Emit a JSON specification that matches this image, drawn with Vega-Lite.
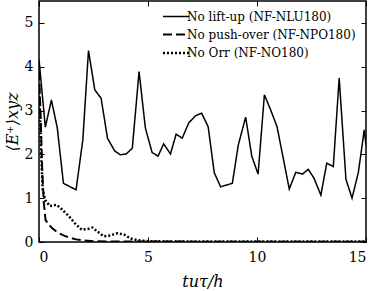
{
  "$schema": "https://vega.github.io/schema/vega-lite/v6.json",
  "autosize": "none",
  "width": 327,
  "height": 241,
  "padding": {"left": 39, "top": 1, "right": 8, "bottom": 49},
  "config": {
    "font": "DejaVu Serif",
    "view": {"stroke": "black", "strokeWidth": 1.5},
    "axis": {"domain": false, "grid": false, "tickColor": "black", "labelColor": "black", "titleColor": "black", "labelFont": "DejaVu Serif", "titleFont": "DejaVu Serif", "labelFontSize": 14, "titleFontSize": 16, "titleFontWeight": "normal", "tickSize": -5, "tickWidth": 1}
  },
  "data": {"values": [
    {"s": "No lift-up (NF-NLU180)", "t": 0, "E": 4.17},
    {"s": "No lift-up (NF-NLU180)", "t": 0.29, "E": 2.62},
    {"s": "No lift-up (NF-NLU180)", "t": 0.57, "E": 3.24},
    {"s": "No lift-up (NF-NLU180)", "t": 0.84, "E": 2.6},
    {"s": "No lift-up (NF-NLU180)", "t": 1.12, "E": 1.34},
    {"s": "No lift-up (NF-NLU180)", "t": 1.7, "E": 1.19},
    {"s": "No lift-up (NF-NLU180)", "t": 2.01, "E": 2.33},
    {"s": "No lift-up (NF-NLU180)", "t": 2.27, "E": 4.37},
    {"s": "No lift-up (NF-NLU180)", "t": 2.56, "E": 3.47},
    {"s": "No lift-up (NF-NLU180)", "t": 2.85, "E": 3.28},
    {"s": "No lift-up (NF-NLU180)", "t": 3.14, "E": 2.37},
    {"s": "No lift-up (NF-NLU180)", "t": 3.47, "E": 2.08},
    {"s": "No lift-up (NF-NLU180)", "t": 3.73, "E": 1.99},
    {"s": "No lift-up (NF-NLU180)", "t": 4.0, "E": 2.01},
    {"s": "No lift-up (NF-NLU180)", "t": 4.28, "E": 2.14},
    {"s": "No lift-up (NF-NLU180)", "t": 4.59, "E": 3.89},
    {"s": "No lift-up (NF-NLU180)", "t": 4.88, "E": 2.6},
    {"s": "No lift-up (NF-NLU180)", "t": 5.19, "E": 2.04},
    {"s": "No lift-up (NF-NLU180)", "t": 5.46, "E": 1.96},
    {"s": "No lift-up (NF-NLU180)", "t": 5.72, "E": 2.24},
    {"s": "No lift-up (NF-NLU180)", "t": 6.03, "E": 2.01},
    {"s": "No lift-up (NF-NLU180)", "t": 6.29, "E": 2.46},
    {"s": "No lift-up (NF-NLU180)", "t": 6.57, "E": 2.37},
    {"s": "No lift-up (NF-NLU180)", "t": 6.87, "E": 2.72},
    {"s": "No lift-up (NF-NLU180)", "t": 7.18, "E": 2.88},
    {"s": "No lift-up (NF-NLU180)", "t": 7.46, "E": 2.94},
    {"s": "No lift-up (NF-NLU180)", "t": 7.76, "E": 2.63},
    {"s": "No lift-up (NF-NLU180)", "t": 8.04, "E": 1.58},
    {"s": "No lift-up (NF-NLU180)", "t": 8.33, "E": 1.26},
    {"s": "No lift-up (NF-NLU180)", "t": 8.87, "E": 1.34},
    {"s": "No lift-up (NF-NLU180)", "t": 9.14, "E": 2.21},
    {"s": "No lift-up (NF-NLU180)", "t": 9.48, "E": 2.85},
    {"s": "No lift-up (NF-NLU180)", "t": 9.76, "E": 1.96},
    {"s": "No lift-up (NF-NLU180)", "t": 10.05, "E": 1.55},
    {"s": "No lift-up (NF-NLU180)", "t": 10.34, "E": 3.36},
    {"s": "No lift-up (NF-NLU180)", "t": 10.63, "E": 3.01},
    {"s": "No lift-up (NF-NLU180)", "t": 10.92, "E": 2.63},
    {"s": "No lift-up (NF-NLU180)", "t": 11.48, "E": 1.21},
    {"s": "No lift-up (NF-NLU180)", "t": 11.78, "E": 1.59},
    {"s": "No lift-up (NF-NLU180)", "t": 12.09, "E": 1.55},
    {"s": "No lift-up (NF-NLU180)", "t": 12.35, "E": 1.66},
    {"s": "No lift-up (NF-NLU180)", "t": 12.62, "E": 1.45},
    {"s": "No lift-up (NF-NLU180)", "t": 12.93, "E": 1.07},
    {"s": "No lift-up (NF-NLU180)", "t": 13.2, "E": 1.8},
    {"s": "No lift-up (NF-NLU180)", "t": 13.5, "E": 1.72},
    {"s": "No lift-up (NF-NLU180)", "t": 13.77, "E": 3.74},
    {"s": "No lift-up (NF-NLU180)", "t": 14.08, "E": 1.43},
    {"s": "No lift-up (NF-NLU180)", "t": 14.36, "E": 1.0},
    {"s": "No lift-up (NF-NLU180)", "t": 14.65, "E": 1.59},
    {"s": "No lift-up (NF-NLU180)", "t": 14.92, "E": 2.56},
    {"s": "No lift-up (NF-NLU180)", "t": 15.0, "E": 2.2},
    {"s": "No push-over (NF-NPO180)", "t": 0, "E": 3.9},
    {"s": "No push-over (NF-NPO180)", "t": 0.08, "E": 2.8},
    {"s": "No push-over (NF-NPO180)", "t": 0.15, "E": 1.6},
    {"s": "No push-over (NF-NPO180)", "t": 0.22, "E": 0.9},
    {"s": "No push-over (NF-NPO180)", "t": 0.3, "E": 0.5},
    {"s": "No push-over (NF-NPO180)", "t": 0.57, "E": 0.33},
    {"s": "No push-over (NF-NPO180)", "t": 0.84, "E": 0.22},
    {"s": "No push-over (NF-NPO180)", "t": 1.12, "E": 0.15},
    {"s": "No push-over (NF-NPO180)", "t": 1.4, "E": 0.1},
    {"s": "No push-over (NF-NPO180)", "t": 1.7, "E": 0.06},
    {"s": "No push-over (NF-NPO180)", "t": 2.0, "E": 0.04},
    {"s": "No push-over (NF-NPO180)", "t": 2.5, "E": 0.02},
    {"s": "No push-over (NF-NPO180)", "t": 3.5, "E": 0.01},
    {"s": "No push-over (NF-NPO180)", "t": 15, "E": 0.005},
    {"s": "No Orr (NF-NO180)", "t": 0, "E": 3.6},
    {"s": "No Orr (NF-NO180)", "t": 0.05, "E": 2.8},
    {"s": "No Orr (NF-NO180)", "t": 0.1, "E": 2.0},
    {"s": "No Orr (NF-NO180)", "t": 0.17, "E": 1.2},
    {"s": "No Orr (NF-NO180)", "t": 0.28, "E": 0.96},
    {"s": "No Orr (NF-NO180)", "t": 0.5, "E": 0.82},
    {"s": "No Orr (NF-NO180)", "t": 0.81, "E": 0.85},
    {"s": "No Orr (NF-NO180)", "t": 1.04, "E": 0.75},
    {"s": "No Orr (NF-NO180)", "t": 1.35, "E": 0.6},
    {"s": "No Orr (NF-NO180)", "t": 1.66, "E": 0.42},
    {"s": "No Orr (NF-NO180)", "t": 1.96, "E": 0.28},
    {"s": "No Orr (NF-NO180)", "t": 2.27, "E": 0.3},
    {"s": "No Orr (NF-NO180)", "t": 2.45, "E": 0.33},
    {"s": "No Orr (NF-NO180)", "t": 2.65, "E": 0.25},
    {"s": "No Orr (NF-NO180)", "t": 2.96, "E": 0.13},
    {"s": "No Orr (NF-NO180)", "t": 3.27, "E": 0.15},
    {"s": "No Orr (NF-NO180)", "t": 3.6, "E": 0.2},
    {"s": "No Orr (NF-NO180)", "t": 3.9, "E": 0.17},
    {"s": "No Orr (NF-NO180)", "t": 4.2, "E": 0.08},
    {"s": "No Orr (NF-NO180)", "t": 4.5, "E": 0.04},
    {"s": "No Orr (NF-NO180)", "t": 5.0, "E": 0.02},
    {"s": "No Orr (NF-NO180)", "t": 6.0, "E": 0.01},
    {"s": "No Orr (NF-NO180)", "t": 15, "E": 0.01}
  ]},
  "resolve": {"axis": {"x": "independent", "y": "independent"}},
  "layer": [
    {
      "mark": {"type": "line", "clip": true},
      "encoding": {
        "x": {"field": "t", "type": "quantitative", "scale": {"domain": [0, 15], "nice": false}, "axis": {"values": [0, 5, 10, 15], "title": "tuτ/h", "titleFontStyle": "italic", "labelPadding": 13, "titlePadding": 9}},
        "y": {"field": "E", "type": "quantitative", "scale": {"domain": [0, 5.5], "nice": false}, "axis": {"values": [0, 1, 2, 3, 4, 5], "title": "⟨E⁺⟩xyz", "titleFontStyle": "italic", "labelPadding": 11, "titlePadding": 4}},
        "color": {"field": "s", "type": "nominal", "scale": {"domain": ["No lift-up (NF-NLU180)", "No push-over (NF-NPO180)", "No Orr (NF-NO180)"], "range": ["black", "black", "black"]}, "legend": {"title": null, "orient": "none", "legendX": 129, "legendY": 8, "padding": 0, "symbolType": "M-2,0H2", "symbolSize": 169, "labelFont": "DejaVu Serif", "labelFontSize": 12, "labelLimit": 300, "labelColor": "black", "labelOffset": 3, "rowPadding": 4, "symbolStrokeColor": "black"}},
        "strokeDash": {"field": "s", "type": "nominal", "scale": {"domain": ["No lift-up (NF-NLU180)", "No push-over (NF-NPO180)", "No Orr (NF-NO180)"], "range": [[1, 0], [9, 4], [2, 2]]}},
        "strokeWidth": {"field": "s", "type": "nominal", "scale": {"domain": ["No lift-up (NF-NLU180)", "No push-over (NF-NPO180)", "No Orr (NF-NO180)"], "range": [1.5, 2.5, 2]}}
      }
    },
    {
      "mark": {"type": "point", "opacity": 0},
      "encoding": {
        "x": {"field": "t", "type": "quantitative", "axis": {"orient": "top", "values": [0, 5, 10, 15], "labels": false, "title": null}},
        "y": {"field": "E", "type": "quantitative", "axis": {"orient": "right", "values": [0, 1, 2, 3, 4, 5], "labels": false, "title": null}}
      }
    }
  ]
}
